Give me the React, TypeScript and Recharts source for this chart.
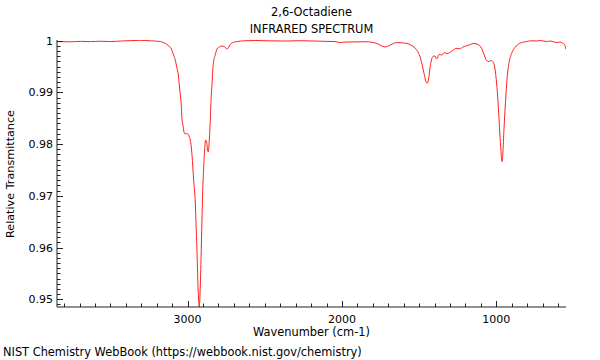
import React from 'react';
import { LineChart, Line, XAxis, YAxis } from 'recharts';

const wavenumbers = [
  3843, 3759, 3694, 3628, 3565, 3500, 3435, 3370, 3306, 3241, 3189, 3164, 3144, 3125, 3105, 3091, 3080, 3069, 3060, 3054,
  3047, 3041, 3036, 3030, 3025, 3015, 3005, 2995.5, 2989, 2982.5, 2971.5, 2961, 2950, 2944, 2939, 2934, 2929, 2925.6, 2921, 2918,
  2911.6, 2907, 2902, 2896.5, 2890, 2883.6, 2877, 2870.6, 2866, 2859.6, 2853, 2846.7, 2842, 2837, 2832, 2821, 2810, 2799.8, 2777.5, 2762.6,
  2745, 2735, 2724, 2702.5, 2678.5, 2638, 2562, 2465, 2368, 2271, 2174, 2109, 2045, 2012, 1980, 1915, 1840, 1805, 1773, 1747,
  1721, 1702, 1682, 1646, 1611, 1579, 1553, 1527, 1508, 1492, 1479, 1469, 1459, 1448, 1440, 1430, 1420.5, 1411, 1398, 1387,
  1370, 1354.5, 1336.5, 1320, 1301, 1279.5, 1262, 1236, 1217, 1197.5, 1171.6, 1145.7, 1118, 1096, 1081, 1063.5, 1048.6, 1032.4, 1019.5, 1009.7,
  998.7, 990, 983.6, 977, 970.6, 964, 957.6, 951, 945, 938, 934, 925, 918.7, 901, 880, 848, 804, 777, 740, 712,
  675, 648, 611, 589, 568, 557, 550,
];

const transmittance = [
  0.99984, 0.99978, 0.99988, 0.99982, 0.9999, 0.99984, 0.99994, 1.00002, 1.00008, 0.99998, 0.99988, 0.99975, 0.99946, 0.99907, 0.99839, 0.99723, 0.99627, 0.99472, 0.99337, 0.99143,
  0.9895, 0.98756, 0.98466, 0.98369, 0.98253, 0.98195, 0.98205, 0.98186, 0.98137, 0.98079, 0.97789, 0.97305, 0.96861, 0.9634, 0.95894, 0.95371, 0.94985, 0.9485, 0.94985, 0.95236,
  0.95952, 0.96532, 0.97113, 0.975, 0.97886, 0.98079, 0.98041, 0.97886, 0.97847, 0.98079, 0.98466, 0.9895, 0.99143, 0.99434, 0.99589, 0.99723, 0.99839, 0.99868, 0.99897, 0.99888,
  0.99839, 0.99868, 0.99926, 0.99969, 0.99984, 0.99998, 1.00004, 0.99998, 0.99994, 1.0, 0.99994, 0.99988, 0.99984, 0.99965, 0.99973, 0.99978, 0.9998, 0.99969, 0.99946, 0.99907,
  0.99878, 0.99897, 0.99926, 0.99965, 0.99959, 0.99946, 0.99917, 0.99859, 0.99782, 0.99666, 0.99511, 0.99376, 0.9924, 0.99176, 0.9924, 0.99472, 0.99627, 0.99694, 0.99704, 0.99646,
  0.99737, 0.99723, 0.99772, 0.99752, 0.99772, 0.9982, 0.99853, 0.99843, 0.99878, 0.99897, 0.99926, 0.99946, 0.99926, 0.99853, 0.99743, 0.99617, 0.99598, 0.99617, 0.99578, 0.99472,
  0.99182, 0.98853, 0.98524, 0.98176, 0.97886, 0.9766, 0.97847, 0.98273, 0.98602, 0.9895, 0.99143, 0.99434, 0.99563, 0.99756, 0.99868, 0.9995, 0.99984, 0.99998, 0.99996, 1.00004,
  0.99984, 0.99994, 0.99965, 0.99973, 0.9995, 0.99917, 0.99839,
];

const xDomain = [549, 3846];
const yDomain = [0.94849, 1.00014];
const xMajorTicks = [1000, 2000, 3000];
const xMajorLabels = ['1000', '2000', '3000'];
const yMajorTicks = [0.95, 0.96, 0.97, 0.98, 0.99, 1.0];
const yMajorLabels = ['0.95', '0.96', '0.97', '0.98', '0.99', '1'];

const xMinorTicks: number[] = [];
for (let v = 600; v <= 3800; v += 100) xMinorTicks.push(v);
const yMinorTicks: number[] = [];
for (let k = 949; k <= 1000; k += 1) yMinorTicks.push(k / 1000);

const data = wavenumbers.map((w, i) => ({ w, t: transmittance[i] }));

const FONT = '"DejaVu Sans", sans-serif';
const AXIS = '#222';
const BORDER = '#999';
const TICK = '#222';

const XTick = (props: any) => {
  const { x, y, payload } = props;
  const v = payload.value;
  const mi = xMajorTicks.findIndex((m) => Math.abs(m - v) < 1e-6);
  const major = mi >= 0;
  const px = Math.round(x) + 0.5;
  return (
    <g>
      <path d={`M${px},${y}L${px},${y - (major ? 6 : 3.5)}`} stroke={TICK} strokeWidth={1} fill="none" />
      {major && (
        <text x={x} y={y + 16} textAnchor="middle" fontFamily={FONT} fontSize={11} fill="#000">
          {xMajorLabels[mi]}
        </text>
      )}
    </g>
  );
};

const YTick = (props: any) => {
  const { x, y, payload } = props;
  const v = payload.value;
  const mi = yMajorTicks.findIndex((m) => Math.abs(m - v) < 1e-7);
  const major = mi >= 0;
  const py = Math.round(y) + 0.5;
  return (
    <g>
      <path d={`M${x},${py}L${x + (major ? 6 : 3.5)},${py}`} stroke={TICK} strokeWidth={1} fill="none" />
      {major && (
        <text x={x - 4} y={y + 4} textAnchor="end" fontFamily={FONT} fontSize={11} fill="#000">
          {yMajorLabels[mi]}
        </text>
      )}
    </g>
  );
};

const textBase: React.CSSProperties = {
  position: 'absolute',
  fontFamily: FONT,
  fontSize: 11.4,
  lineHeight: 1,
  whiteSpace: 'nowrap',
  color: '#000',
};

export default function App() {
  return (
    <div style={{ position: 'absolute', left: 0, top: 0, width: 600, height: 360, background: '#fff' }}>
      <LineChart width={600} height={360} data={data} margin={{ top: 40, right: 34, bottom: 0, left: 0 }}>
        <XAxis
          xAxisId="main"
          type="number"
          dataKey="w"
          domain={xDomain}
          reversed
          allowDataOverflow
          ticks={xMinorTicks}
          interval={0}
          tickSize={0}
          tickMargin={0}
          tickLine={false}
          height={53}
          axisLine={{ stroke: AXIS, strokeWidth: 1 }}
          tick={<XTick />}
        />
        <YAxis
          yAxisId="main"
          type="number"
          domain={yDomain}
          allowDataOverflow
          ticks={yMinorTicks}
          interval={0}
          tickSize={0}
          tickMargin={0}
          tickLine={false}
          width={57}
          axisLine={{ stroke: AXIS, strokeWidth: 1 }}
          tick={<YTick />}
        />
        <XAxis
          xAxisId="top"
          orientation="top"
          type="number"
          dataKey="w"
          domain={xDomain}
          reversed
          allowDataOverflow
          height={0}
          tick={false}
          tickLine={false}
          axisLine={{ stroke: BORDER, strokeWidth: 1.5 }}
        />
        <YAxis
          yAxisId="right"
          orientation="right"
          type="number"
          domain={yDomain}
          allowDataOverflow
          width={0}
          tick={false}
          tickLine={false}
          axisLine={{ stroke: '#777', strokeWidth: 1.5 }}
        />
        <Line
          xAxisId="main"
          yAxisId="main"
          dataKey="t"
          type="monotone"
          stroke="#ff2020"
          strokeWidth={1}
          dot={false}
          activeDot={false}
          isAnimationActive={false}
        />
      </LineChart>
      <div style={{ ...textBase, left: 311.5, top: 12.5, transform: 'translate(-50%, -50%)' }}>2,6-Octadiene</div>
      <div style={{ ...textBase, left: 311.5, top: 29.5, transform: 'translate(-50%, -50%)' }}>INFRARED SPECTRUM</div>
      <div style={{ ...textBase, left: 311.5, top: 332.5, transform: 'translate(-50%, -50%)' }}>Wavenumber (cm-1)</div>
      <div style={{ ...textBase, fontSize: 11.2, left: 11, top: 174, transform: 'translate(-50%, -50%) rotate(-90deg)' }}>Relative Transmittance</div>
      <div style={{ ...textBase, left: 3, top: 352.5, transform: 'translateY(-50%)' }}>NIST Chemistry WebBook (https://webbook.nist.gov/chemistry)</div>
    </div>
  );
}
